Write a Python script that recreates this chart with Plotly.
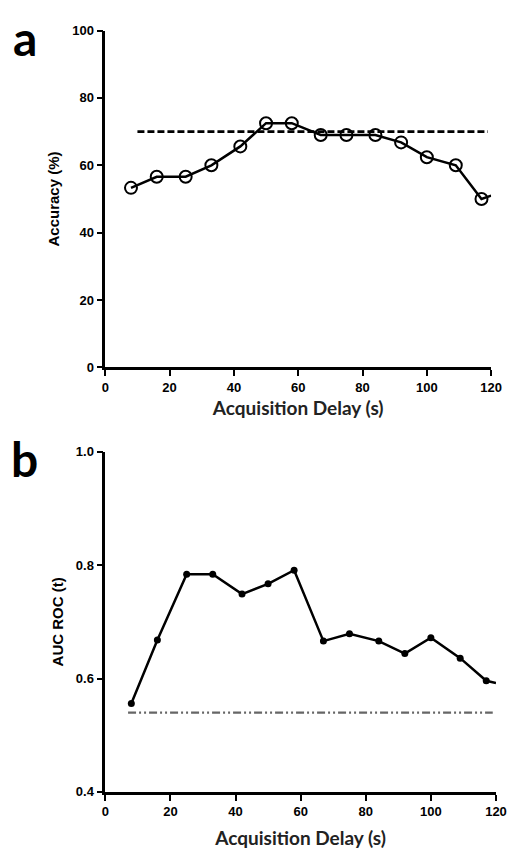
import plotly.graph_objects as go

# Panel a: accuracy vs acquisition delay
delay_a = [8, 16, 25, 33, 42, 50, 58, 67, 75, 84, 92, 100, 109, 117, 120]
accuracy = [53.3, 56.6, 56.6, 60.0, 65.6, 72.5, 72.5, 69.0, 69.0, 69.0, 66.8, 62.4, 60.0, 50.0, 51.0]
n_markers_a = 14
ref_a_x = [10, 119]
ref_a_y = [70, 70]

# Panel b: AUC ROC vs acquisition delay
delay_b = [8, 16, 25, 33, 42, 50, 58, 67, 75, 84, 92, 100, 109, 117, 120]
auc = [0.556, 0.668, 0.784, 0.784, 0.749, 0.767, 0.791, 0.666, 0.679, 0.666, 0.644, 0.672, 0.636, 0.596, 0.592]
n_markers_b = 14
ref_b_x = [7, 119]
ref_b_y = [0.54, 0.54]

x_ticks = [0, 20, 40, 60, 80, 100, 120]
y_ticks_a = [0, 20, 40, 60, 80, 100]
y_ticks_b = [0.4, 0.6, 0.8, 1.0]

W, H = 517, 849
TICKFONT = dict(family="Liberation Sans", size=13, color="black", weight="bold")

fig = go.Figure()

# panel a
fig.add_trace(go.Scatter(x=ref_a_x, y=ref_a_y, mode="lines",
                         line=dict(color="black", width=2.8, dash="7px,3px"),
                         xaxis="x", yaxis="y", showlegend=False))
fig.add_trace(go.Scatter(x=delay_a, y=accuracy, mode="lines",
                         line=dict(color="black", width=2.5),
                         xaxis="x", yaxis="y", showlegend=False))
fig.add_trace(go.Scatter(x=delay_a[:n_markers_a], y=accuracy[:n_markers_a], mode="markers",
                         marker=dict(symbol="circle-open", size=12, color="black",
                                     line=dict(width=2, color="black")),
                         xaxis="x", yaxis="y", showlegend=False))

# panel b
fig.add_trace(go.Scatter(x=ref_b_x, y=ref_b_y, mode="lines",
                         line=dict(color="#666666", width=2.2, dash="8px,3px,2px,3px,2px,3px"),
                         xaxis="x2", yaxis="y2", showlegend=False))
fig.add_trace(go.Scatter(x=delay_b, y=auc, mode="lines",
                         line=dict(color="black", width=2.5),
                         xaxis="x2", yaxis="y2", showlegend=False))
fig.add_trace(go.Scatter(x=delay_b[:n_markers_b], y=auc[:n_markers_b], mode="markers",
                         marker=dict(symbol="circle", size=7, color="black"),
                         xaxis="x2", yaxis="y2", showlegend=False))

def px_x(p):
    return p / W

def px_y(p):
    return 1 - p / H

common_x = dict(range=[0, 120], tickvals=x_ticks, showline=True, linecolor="black", linewidth=2.5,
                ticks="outside", ticklen=6, tickwidth=2, tickcolor="black", showgrid=False,
                zeroline=False, tickfont=TICKFONT, fixedrange=True)
common_y = dict(showline=True, linecolor="black", linewidth=2.5, ticks="outside", ticklen=6,
                tickwidth=2, tickcolor="black", showgrid=False, zeroline=False, tickfont=TICKFONT)

XTITLE_FONT = dict(family="Lato", size=19, color="#222", weight="bold")
YTITLE_FONT = dict(family="Liberation Sans", size=15, color="black", weight="bold")

fig.update_layout(
    width=W, height=H,
    margin=dict(l=0, r=0, t=0, b=0),
    paper_bgcolor="white", plot_bgcolor="white",
    xaxis=dict(common_x, domain=[px_x(104.3), px_x(501.7)], anchor="y",
               title=dict(text="Acquisition Delay (s)", font=XTITLE_FONT, standoff=8)),
    yaxis=dict(common_y, domain=[px_y(367.3), px_y(24)], range=[0, 100], tickvals=y_ticks_a,
               anchor="x",
               title=dict(text="Accuracy (%)", font=YTITLE_FONT, standoff=9)),
    xaxis2=dict(common_x, domain=[px_x(104.3), px_x(506.7)], anchor="y2",
                title=dict(text="Acquisition Delay (s)", font=XTITLE_FONT, standoff=16)),
    yaxis2=dict(common_y, domain=[px_y(800), px_y(453.3)], range=[0.4, 1.0], tickvals=y_ticks_b,
                tickformat=".1f", anchor="x2",
                title=dict(text="AUC ROC (t)", font=YTITLE_FONT, standoff=9)),
    annotations=[
        dict(text="a", x=px_x(22), y=px_y(31), xref="paper", yref="paper",
             xanchor="center", yanchor="middle", showarrow=False,
             font=dict(family="Lato", size=48, color="black", weight="bold")),
        dict(text="b", x=px_x(21), y=px_y(460), xref="paper", yref="paper",
             xanchor="center", yanchor="middle", showarrow=False,
             font=dict(family="Lato", size=48, color="black", weight="bold")),
    ],
)

fig.write_html("out.html")
